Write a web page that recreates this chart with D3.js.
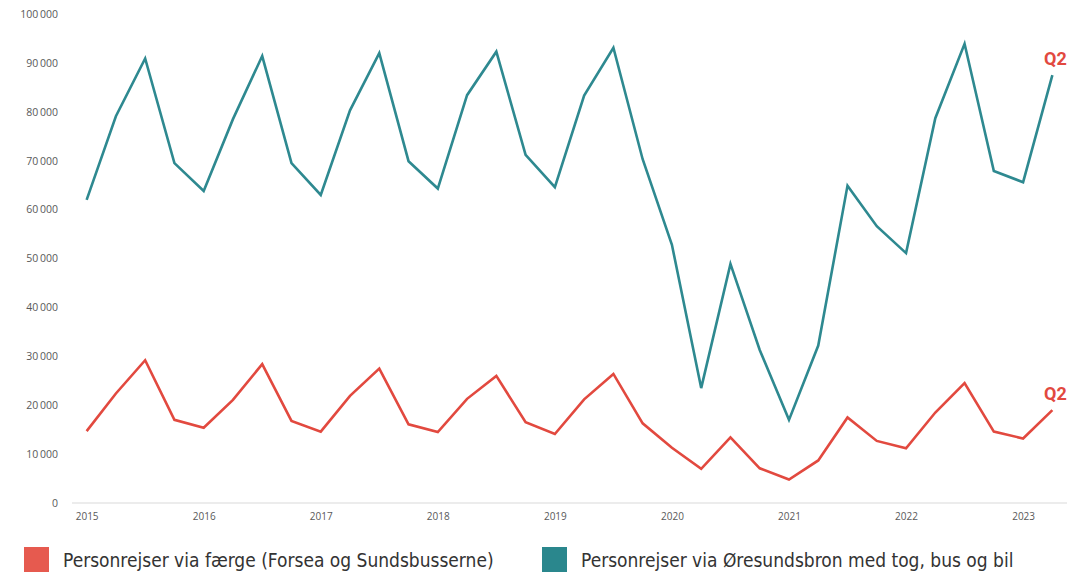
<!DOCTYPE html>
<html>
<head>
<meta charset="utf-8">
<script src="https://cdn.jsdelivr.net/npm/d3@7"></script>
<style>
  body { margin: 0; background: #fff; }
  svg { display: block; }
</style>
</head>
<body>
<svg id="chart" width="1083" height="574"></svg>
<script>
// quarterly data 2015 Q1 - 2023 Q2
const years = [2015, 2016, 2017, 2018, 2019, 2020, 2021, 2022, 2023];
const quarters = [];
years.forEach(y => [1, 2, 3, 4].forEach(q => {
  if (y < 2023 || q <= 2) quarters.push(`${y}-Q${q}`);
}));

const faerge = [
  14700, 22400, 29200, 17000, 15400, 21100, 28400, 16800,
  14600, 21900, 27500, 16100, 14500, 21300, 26000, 16500,
  14100, 21200, 26400, 16300, 11300, 7000, 13400, 7100,
  4800, 8700, 17500, 12700, 11200, 18500, 24500, 14600,
  13200, 19000
];
const oresund = [
  62000, 79100, 90900, 69500, 63800, 78500, 91400, 69500,
  63000, 80300, 92000, 69900, 64300, 83400, 92300, 71200,
  64600, 83300, 93100, 70300, 52800, 23500, 48900, 31300,
  17000, 32200, 64900, 56600, 51100, 78700, 93900, 67900,
  65600, 87500
];
const yTicks = [0, 10000, 20000, 30000, 40000, 50000, 60000, 70000, 80000, 90000, 100000];

const series = [
  { name: "Personrejser via færge (Forsea og Sundsbusserne)", values: faerge, color: "#e2493f", legend: "#e65a4f" },
  { name: "Personrejser via Øresundsbron med tog, bus og bil", values: oresund, color: "#2e8990", legend: "#2a878d" }
];

const svg = d3.select("#chart");
const margin = { top: 14, right: 16, bottom: 71, left: 72 };
const width = 1083, height = 574;

const x = d3.scalePoint()
  .domain(quarters)
  .range([margin.left, width - margin.right])
  .padding(0.5);

const y = d3.scaleLinear()
  .domain([0, 100000])
  .range([height - margin.bottom, margin.top]);

const fmt = d3.formatLocale({ thousands: "\u2009", grouping: [3], decimal: ",", currency: ["", ""] }).format(",");

// y axis labels, no line
svg.append("g")
  .attr("transform", `translate(${margin.left - 11},0)`)
  .call(d3.axisLeft(y).tickValues(yTicks).tickSize(0).tickFormat(fmt))
  .call(g => g.select(".domain").remove())
  .selectAll("text")
  .attr("font-family", "'Open Sans', 'Noto Sans', sans-serif")
  .attr("font-size", 10.5)
  .attr("fill", "#595959");

// x axis baseline + year labels
svg.append("g")
  .attr("transform", `translate(0,${y(0)})`)
  .call(d3.axisBottom(x)
    .tickValues(quarters.filter(d => d.endsWith("Q1")))
    .tickSize(0)
    .tickPadding(10)
    .tickFormat(d => d.slice(0, 4)))
  .call(g => g.select(".domain").attr("stroke", "#d9d9d9").attr("d", `M${margin.left},0H${width - margin.right}`))
  .selectAll("text")
  .attr("font-family", "'Open Sans', 'Noto Sans', sans-serif")
  .attr("font-size", 10)
  .attr("fill", "#595959");

const line = d3.line()
  .x((d, i) => x(quarters[i]))
  .y(d => y(d));

series.forEach(s => {
  svg.append("path")
    .datum(s.values)
    .attr("fill", "none")
    .attr("stroke", s.color)
    .attr("stroke-width", 2.6)
    .attr("stroke-linejoin", "miter")
    .attr("d", line);

  // Q2 label at the last point
  const last = s.values.length - 1;
  svg.append("text")
    .attr("x", x(quarters[last]) + 3)
    .attr("y", y(s.values[last]) - 10)
    .attr("text-anchor", "middle")
    .attr("font-family", "Roboto, sans-serif")
    .attr("font-weight", "bold")
    .attr("font-size", 18)
    .attr("fill", "#e2493f")
    .text("Q2");
});

// legend
const legendX = [24, 542];
const legend = svg.append("g").attr("transform", "translate(0,547)");
series.forEach((s, i) => {
  legend.append("rect")
    .attr("x", legendX[i])
    .attr("y", 0)
    .attr("width", 25)
    .attr("height", 25)
    .attr("fill", s.legend);
  legend.append("text")
    .attr("x", legendX[i] + 39)
    .attr("y", 20)
    .attr("font-family", "'DejaVu Sans Condensed', 'DejaVu Sans', sans-serif")
    .attr("font-stretch", "condensed")
    .attr("font-size", 19)
    .attr("fill", "#333")
    .text(s.name);
});
</script>
</body>
</html>
